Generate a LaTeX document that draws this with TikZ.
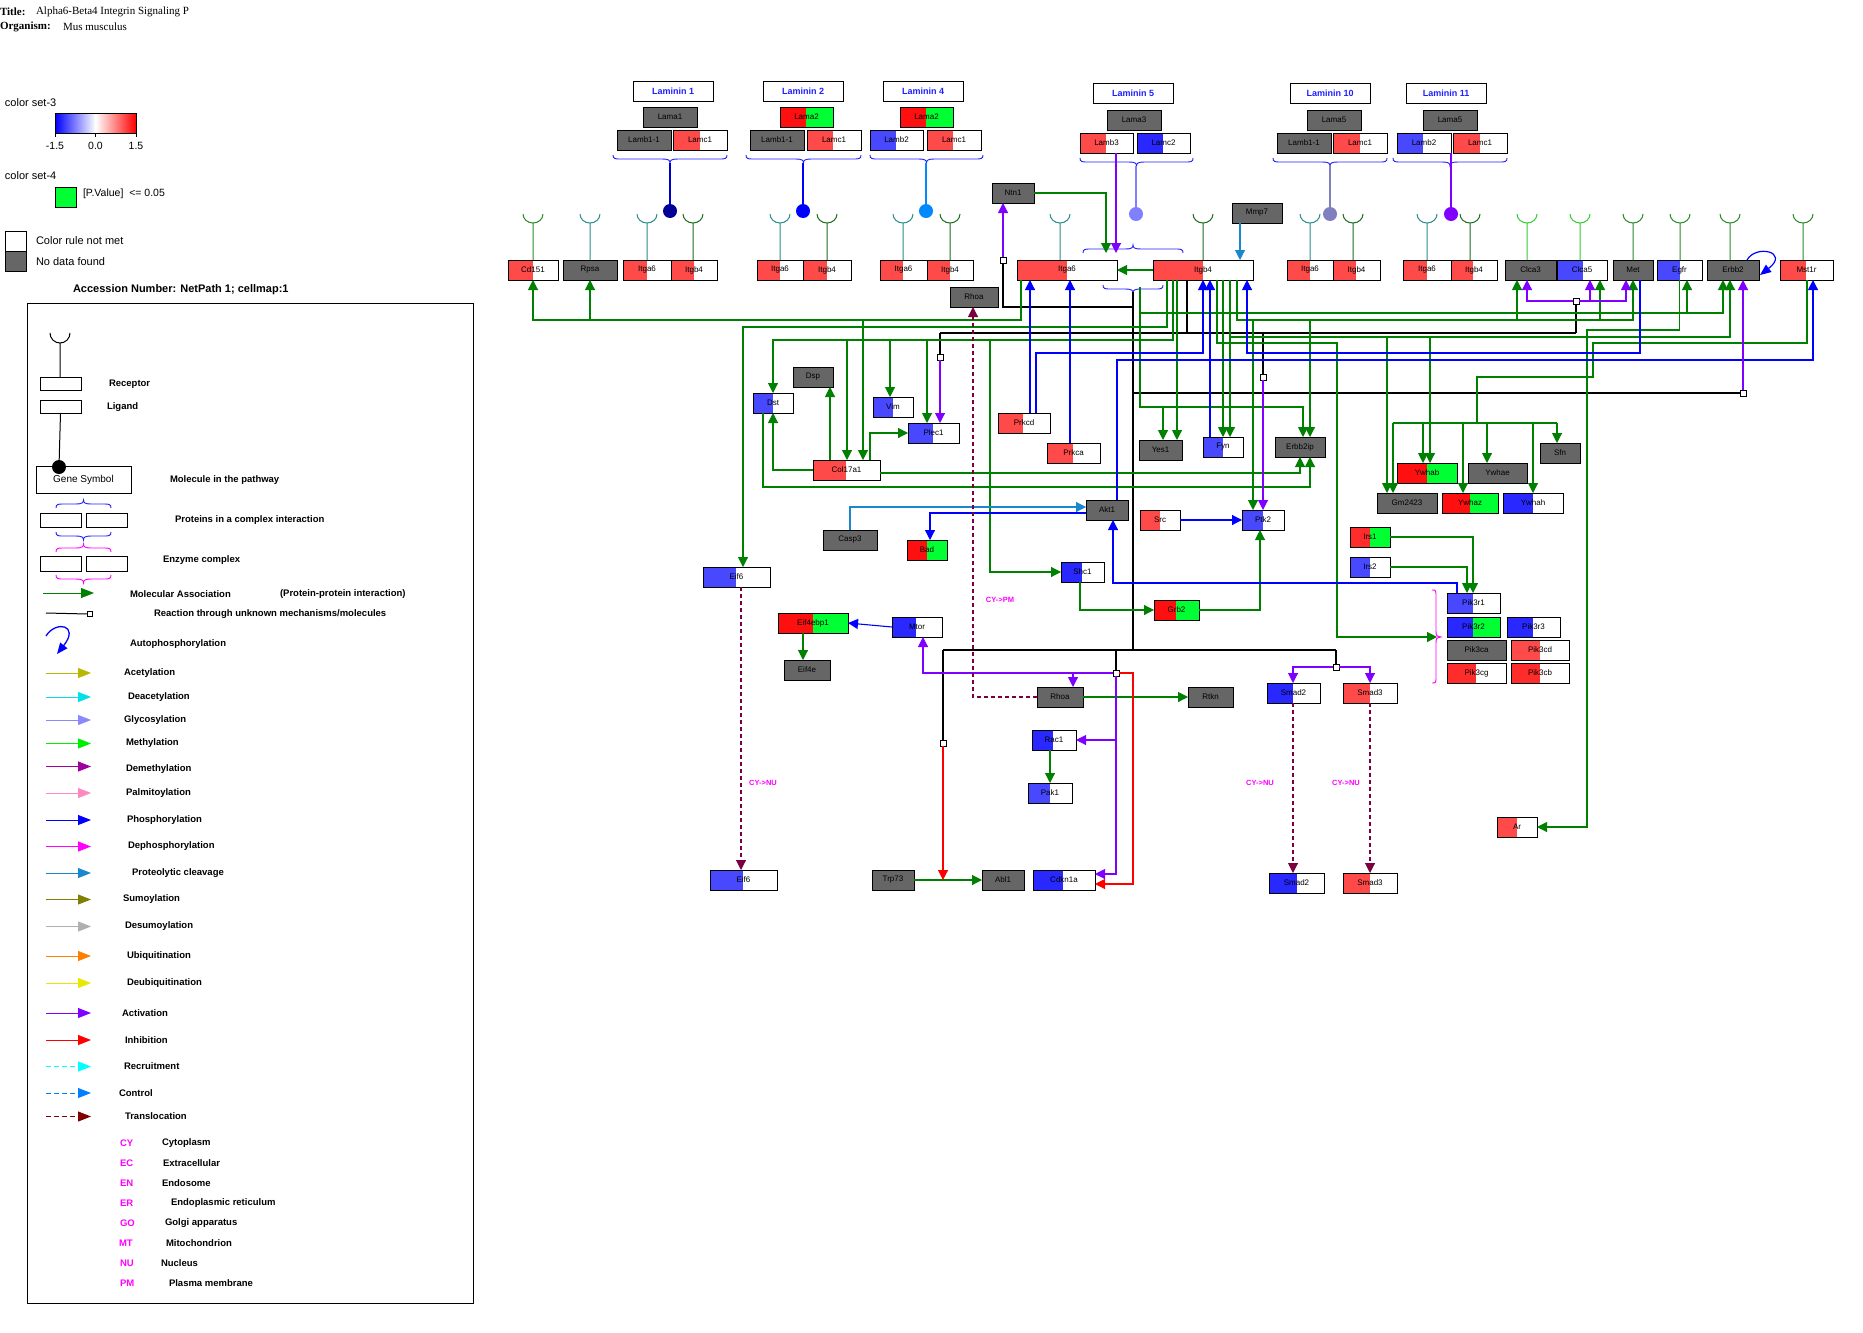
\documentclass[tikz,border=0pt]{standalone}
\usepackage{fontspec}
\setmainfont{Liberation Sans}
\newfontfamily\serifface{Liberation Serif}
\usetikzlibrary{arrows.meta}

% data colours
\definecolor{gry}{HTML}{666666}
\definecolor{rd}{HTML}{FF4A4A}
\definecolor{rdd}{HTML}{FF1010}
\definecolor{rdm}{HTML}{FF2C2C}
\definecolor{bl}{HTML}{4848FF}
\definecolor{bld}{HTML}{2828FF}
\definecolor{gr}{HTML}{00FF33}
% interaction colours
\definecolor{cAsc}{HTML}{008000}
\definecolor{cPhos}{HTML}{0000FF}
\definecolor{cProt}{HTML}{1A88CC}
\definecolor{cAct}{HTML}{8000FF}
\definecolor{cInh}{HTML}{FF0000}
\definecolor{cTrl}{HTML}{7A0040}
\definecolor{cMag}{HTML}{FF00FF}
\definecolor{cBrace}{HTML}{2020FF}
\definecolor{cLab}{HTML}{2020FF}
\definecolor{cupTeal}{HTML}{2A8C8C}
\definecolor{cupDk}{HTML}{1E6E1E}
\definecolor{cupGr}{HTML}{2A8A2A}
\definecolor{cupLt}{HTML}{33CC33}
\definecolor{lmA}{HTML}{0000CC}
\definecolor{lmAc}{HTML}{000099}
\definecolor{lmB}{HTML}{0000FF}
\definecolor{lmC}{HTML}{0088FF}
\definecolor{lmD}{HTML}{8080FF}
\definecolor{lmE}{HTML}{8080C0}
% legend colours
\definecolor{lAcet}{HTML}{B8B800}
\definecolor{lDeac}{HTML}{00E0E8}
\definecolor{lGlyc}{HTML}{8888FF}
\definecolor{lMeth}{HTML}{00EE00}
\definecolor{lDeme}{HTML}{A000A0}
\definecolor{lPalm}{HTML}{FF88C0}
\definecolor{lPhos}{HTML}{0000FF}
\definecolor{lDeph}{HTML}{FF00FF}
\definecolor{lProt}{HTML}{1A88CC}
\definecolor{lSumo}{HTML}{808000}
\definecolor{lDesu}{HTML}{B0B0B0}
\definecolor{lUbiq}{HTML}{FF8000}
\definecolor{lDeub}{HTML}{E8E800}
\definecolor{lActv}{HTML}{8000FF}
\definecolor{lInhb}{HTML}{FF0000}
\definecolor{lRecr}{HTML}{00FFFF}
\definecolor{lCtrl}{HTML}{0080FF}
\definecolor{lTrsl}{HTML}{800000}

% gene box: name, x1, y1, x2, y2, left colour, split x, right colour, label
\newcommand\gene[9]{%
  \fill[#6] (#2,#3) rectangle (#7,#5);
  \fill[#8] (#7,#3) rectangle (#4,#5);
  \node[gbox,minimum width={#4pt-#2pt},minimum height={#5pt-#3pt}] (#1) at ({(#2+#4)/2},{(#3+#5)/2}) {#9};}
% receptor cup: x, colour, top of the receptor box
\newcommand\rcup[3]{%
  \draw[#2,line width=1pt] (#1-10,214) arc[start angle=180,end angle=360,x radius=10pt,y radius=9pt]
    (#1,223) -- (#1,#3);}
% horizontal braces: x1, x2, y of the ends, colour
\newcommand\bracedn[4]{%
  \draw[#4,line width=0.9pt] (#1,#3) .. controls (#1,#3+4) and (#1+2,#3+4) .. (#1+8,#3+4)
    -- ({(#1+#2)/2-8},#3+4) .. controls ({(#1+#2)/2-2},#3+4) and ({(#1+#2)/2},#3+5) .. ({(#1+#2)/2},#3+8)
    .. controls ({(#1+#2)/2},#3+5) and ({(#1+#2)/2+2},#3+4) .. ({(#1+#2)/2+8},#3+4)
    -- (#2-8,#3+4) .. controls (#2-2,#3+4) and (#2,#3+4) .. (#2,#3);}
\newcommand\braceup[4]{%
  \draw[#4,line width=0.9pt] (#1,#3) .. controls (#1,#3-4) and (#1+2,#3-4) .. (#1+8,#3-4)
    -- ({(#1+#2)/2-8},#3-4) .. controls ({(#1+#2)/2-2},#3-4) and ({(#1+#2)/2},#3-5) .. ({(#1+#2)/2},#3-8)
    .. controls ({(#1+#2)/2},#3-5) and ({(#1+#2)/2+2},#3-4) .. ({(#1+#2)/2+8},#3-4)
    -- (#2-8,#3-4) .. controls (#2-2,#3-4) and (#2,#3-4) .. (#2,#3);}

\begin{document}
\begin{tikzpicture}[x=1pt,y=-1pt,
  gbox/.style={draw=black,line width=1pt,inner sep=0pt,outer sep=0pt,font=\fontsize{8}{9}\selectfont},
  labbox/.style={draw=black,line width=1pt,inner sep=0pt,outer sep=0pt,minimum width=80pt,minimum height=20pt,text=cLab,font=\bfseries\fontsize{9}{10}\selectfont},
  link/.style={line width=1.1pt},
  arrtip/.style={-{Triangle[length=10pt,width=10pt]}},
  asc/.style={link,draw=cAsc,arrtip},
  asl/.style={link,draw=cAsc},
  phos/.style={link,draw=cPhos,arrtip},
  prot/.style={link,draw=cProt,arrtip},
  actv/.style={link,draw=cAct,arrtip},
  acl/.style={link,draw=cAct},
  inhb/.style={link,draw=cInh,arrtip},
  unk/.style={link,draw=black},
  transl/.style={link,draw=cTrl,dash pattern=on 4pt off 3pt,arrtip},
  sq/.style={draw=black,fill=white,line width=0.8pt,minimum size=6pt,inner sep=0pt,outer sep=0pt},
  lbl/.style={inner sep=0pt,outer sep=0pt},
  leg/.style={lbl,anchor=west,font=\bfseries\fontsize{9.5}{11}\selectfont},
  cmp/.style={lbl,anchor=west,text=cMag,font=\bfseries\fontsize{9.5}{11}\selectfont},
  loc/.style={lbl,text=cMag,font=\bfseries\fontsize{7.5}{9}\selectfont},
  legarr/.style={line width=0.9pt,-{Triangle[length=13pt,width=10pt]}},
]
\useasboundingbox (0,0) rectangle (1863,1333);
\fill[white] (0,0) rectangle (1863,1333);

% ---------------- header ----------------
\node[lbl,anchor=west,font=\serifface\bfseries\fontsize{11}{12}\selectfont] (ttlA) at (0,12) {Title:};
\node[lbl,anchor=west,font=\serifface\fontsize{11}{12}\selectfont] (ttlB) at (36,12) {Alpha6-Beta4 Integrin Signaling P};
\node[lbl,anchor=west,font=\serifface\bfseries\fontsize{11}{12}\selectfont] (orgA) at (0,27) {Organism:};
\node[lbl,anchor=west,font=\serifface\fontsize{11}{12}\selectfont] (orgB) at (63,27) {Mus musculus};

% colour sets
\node[lbl,anchor=west,font=\fontsize{11}{12}\selectfont] (cs3) at (5,103) {color set-3};
\shade[left color=blue,right color=white] (55,113) rectangle (95.5,133);
\shade[left color=white,right color=red] (95.5,113) rectangle (136,133);
\draw[line width=0.8pt] (55,113) rectangle (136,133);
\draw[line width=0.8pt] (55,133) -- (55,137) (95.5,133) -- (95.5,137) (136,133) -- (136,137);
\node[lbl,font=\fontsize{10.5}{12}\selectfont] (tkA) at (55,146) {-1.5};
\node[lbl,font=\fontsize{10.5}{12}\selectfont] (tkB) at (95.5,146) {0.0};
\node[lbl,font=\fontsize{10.5}{12}\selectfont] (tkC) at (136,146) {1.5};
\node[lbl,anchor=west,font=\fontsize{11}{12}\selectfont] (cs4) at (5,176) {color set-4};
\fill[gr] (55,187) rectangle (76,207);
\draw[line width=0.8pt] (55,187) rectangle (76,207);
\node[lbl,anchor=west,font=\fontsize{10.5}{12}\selectfont] (pval) at (83,194) {[P.Value]\ \ <= 0.05};
\draw[line width=0.8pt] (5,231) rectangle (26,251);
\fill[gry] (5,251) rectangle (26,271);
\draw[line width=0.8pt] (5,251) rectangle (26,271);
\node[lbl,anchor=west,font=\fontsize{11}{12}\selectfont] (crnm) at (36,241) {Color rule not met};
\node[lbl,anchor=west,font=\fontsize{11}{12}\selectfont] (ndf) at (36,262) {No data found};
\node[lbl,anchor=west,font=\bfseries\fontsize{11}{12}\selectfont] (acc) at (73,290) {Accession Number: NetPath 1; cellmap:1};

% ---------------- legend ----------------
\draw[line width=1pt] (27,303) rectangle (473,1303);
\draw[line width=1pt] (50,333) arc[start angle=180,end angle=360,radius=10pt] (60,343) -- (60,377);
\node[gbox,minimum width=41pt,minimum height=13pt] (legRec) at (60.5,383.5) {};
\node[gbox,minimum width=41pt,minimum height=13pt] (legLig) at (60.5,406.5) {};
\draw[line width=1pt] (legLig.south) -- (59,467);
\node[gbox,minimum width=95pt,minimum height=27pt,font=\fontsize{10}{12}\selectfont] (legGene) at (83.5,479.5) {Gene Symbol};
\fill (59,467) circle[radius=7pt];
\node[leg] (tRec) at (109,384) {Receptor};
\node[leg] (tLig) at (107,407) {Ligand};
\node[leg] (tMol) at (170,480) {Molecule in the pathway};
\braceup{56}{111}{508}{cBrace}
\node[gbox,minimum width=41pt,minimum height=14pt] (legCa) at (60.5,520) {};
\node[gbox,minimum width=41pt,minimum height=14pt] (legCb) at (106.5,520) {};
\bracedn{56}{111}{532}{cBrace}
\node[leg] (tCpx) at (175,520) {Proteins in a complex interaction};
\braceup{56}{111}{552}{cMag}
\node[gbox,minimum width=41pt,minimum height=15pt] (legEa) at (60.5,563.5) {};
\node[gbox,minimum width=41pt,minimum height=15pt] (legEb) at (106.5,563.5) {};
\bracedn{56}{111}{575}{cMag}
\node[leg] (tEnz) at (163,560) {Enzyme complex};
\draw[legarr,draw=cAsc] (43,593) -- (94,593);
\node[leg] (tMA) at (130,594) {Molecular Association};
\node[leg] (tPPI) at (280,594) {(Protein-protein interaction)};
\node[sq,minimum size=5pt] (legSq) at (90,614) {};
\draw[line width=1pt] (46,613) -- (legSq.west);
\node[leg] (tUnk) at (154,614) {Reaction through unknown mechanisms/molecules};
\draw[line width=1.3pt,draw=cPhos,-{Triangle[length=11pt,width=9pt]}] (46,636) .. controls (56,620) and (80,625) .. (57,654);
\node[leg] (tAuto) at (130,644) {Autophosphorylation};

\draw[legarr,draw=lAcet] (46,673) -- (91,673);  \node[leg] (tAcet) at (124,673) {Acetylation};
\draw[legarr,draw=lDeac] (46,697) -- (91,697);  \node[leg] (tDeac) at (128,697) {Deacetylation};
\draw[legarr,draw=lGlyc] (46,720) -- (91,720);  \node[leg] (tGlyc) at (124,720) {Glycosylation};
\draw[legarr,draw=lMeth] (46,743.5) -- (91,743.5);  \node[leg] (tMeth) at (126,743.5) {Methylation};
\draw[legarr,draw=lDeme] (46,766.5) -- (91,766.5);  \node[leg] (tDeme) at (126,769.5) {Demethylation};
\draw[legarr,draw=lPalm] (46,793) -- (91,793);  \node[leg] (tPalm) at (126,793) {Palmitoylation};
\draw[legarr,draw=lPhos] (46,820) -- (91,820);  \node[leg] (tPhos) at (127,820) {Phosphorylation};
\draw[legarr,draw=lDeph] (46,846.5) -- (91,846.5);  \node[leg] (tDeph) at (128,846.5) {Dephosphorylation};
\draw[legarr,draw=lProt] (46,873) -- (91,873);  \node[leg] (tProt) at (132,873) {Proteolytic cleavage};
\draw[legarr,draw=lSumo] (46,899.5) -- (91,899.5);  \node[leg] (tSumo) at (123,899.5) {Sumoylation};
\draw[legarr,draw=lDesu] (46,926.5) -- (91,926.5);  \node[leg] (tDesu) at (125,926.5) {Desumoylation};
\draw[legarr,draw=lUbiq] (46,956) -- (91,956);  \node[leg] (tUbiq) at (127,956) {Ubiquitination};
\draw[legarr,draw=lDeub] (46,983) -- (91,983);  \node[leg] (tDeub) at (127,983) {Deubiquitination};
\draw[legarr,draw=lActv] (46,1013) -- (91,1013);  \node[leg] (tActv) at (122,1013) {Activation};
\draw[legarr,draw=lInhb] (46,1040) -- (91,1040);  \node[leg] (tInhb) at (125,1040) {Inhibition};
\draw[legarr,draw=lRecr,dash pattern=on 5pt off 3pt] (46,1066.5) -- (91,1066.5);  \node[leg] (tRecr) at (124,1066.5) {Recruitment};
\draw[legarr,draw=lCtrl,dash pattern=on 5pt off 3pt] (46,1093) -- (91,1093);  \node[leg] (tCtrl) at (119,1093) {Control};
\draw[legarr,draw=lTrsl,dash pattern=on 5pt off 3pt] (46,1116.5) -- (91,1116.5);  \node[leg] (tTrsl) at (125,1116.5) {Translocation};

\node[cmp] (cCY) at (120,1143.5) {CY}; \node[leg] (vCY) at (162,1143.5) {Cytoplasm};
\node[cmp] (cEC) at (120,1163.5) {EC}; \node[leg] (vEC) at (163,1163.5) {Extracellular};
\node[cmp] (cEN) at (120,1183.5) {EN}; \node[leg] (vEN) at (162,1183.5) {Endosome};
\node[cmp] (cER) at (120,1203.5) {ER}; \node[leg] (vER) at (171,1203.5) {Endoplasmic reticulum};
\node[cmp] (cGO) at (120,1223) {GO}; \node[leg] (vGO) at (165,1223) {Golgi apparatus};
\node[cmp] (cMT) at (119,1243.5) {MT}; \node[leg] (vMT) at (166,1243.5) {Mitochondrion};
\node[cmp] (cNU) at (120,1263.5) {NU}; \node[leg] (vNU) at (161,1263.5) {Nucleus};
\node[cmp] (cPM) at (120,1283) {PM}; \node[leg] (vPM) at (169,1283) {Plasma membrane};

% ---------------- laminin ligands ----------------
\node[labbox] (lamhA) at (673,91) {Laminin 1};
\node[labbox] (lamhB) at (803,91) {Laminin 2};
\node[labbox] (lamhC) at (923,91) {Laminin 4};
\node[labbox] (lamhD) at (1133,93) {Laminin 5};
\node[labbox] (lamhE) at (1330,93) {Laminin 10};
\node[labbox] (lamhF) at (1446,93) {Laminin 11};

\gene{lamaA}{643}{107}{697}{127}{gry}{697}{gry}{Lama1}
\gene{lambA}{617}{130}{671}{150}{gry}{671}{gry}{Lamb1-1}
\gene{lamcA}{673}{130}{727}{150}{rd}{700}{white}{Lamc1}
\gene{lamaB}{780}{107}{833}{127}{rdd}{806}{gr}{Lama2}
\gene{lambB}{750}{130}{804}{150}{gry}{804}{gry}{Lamb1-1}
\gene{lamcB}{807}{130}{861}{150}{rd}{833}{white}{Lamc1}
\gene{lamaC}{900}{107}{953}{127}{rdd}{926}{gr}{Lama2}
\gene{lambC}{870}{130}{923}{150}{bl}{896}{white}{Lamb2}
\gene{lamcC}{927}{130}{981}{150}{rd}{953}{white}{Lamc1}
\gene{lamaD}{1107}{110}{1161}{130}{gry}{1161}{gry}{Lama3}
\gene{lambD}{1080}{133}{1133}{153}{rd}{1106}{white}{Lamb3}
\gene{lamcD}{1137}{133}{1190}{153}{bld}{1163}{white}{Lamc2}
\gene{lamaE}{1307}{110}{1361}{130}{gry}{1361}{gry}{Lama5}
\gene{lambE}{1277}{133}{1331}{153}{gry}{1331}{gry}{Lamb1-1}
\gene{lamcE}{1333}{133}{1387}{153}{rd}{1360}{white}{Lamc1}
\gene{lamaF}{1423}{110}{1477}{130}{gry}{1477}{gry}{Lama5}
\gene{lambF}{1397}{133}{1451}{153}{bl}{1423}{white}{Lamb2}
\gene{lamcF}{1453}{133}{1507}{153}{rd}{1480}{white}{Lamc1}

\bracedn{613}{727}{155}{cBrace}
\bracedn{746}{861}{155}{cBrace}
\bracedn{870}{983}{155}{cBrace}
\bracedn{1080}{1193}{158}{cBrace}
\bracedn{1273}{1387}{158}{cBrace}
\bracedn{1393}{1507}{158}{cBrace}

\draw[lmA,line width=1.2pt] (670,163) -- (670,211); \fill[lmAc] (670,211) circle[radius=7pt];
\draw[lmB,line width=1.2pt] (803,163) -- (803,211); \fill[lmB] (803,211) circle[radius=7pt];
\draw[lmC,line width=1.2pt] (926,163) -- (926,211); \fill[lmC] (926,211) circle[radius=7pt];
\draw[lmD,line width=1.2pt] (1136,166) -- (1136,214); \fill[lmD] (1136,214) circle[radius=7pt];
\draw[lmE,line width=1.2pt] (1330,166) -- (1330,214); \fill[lmE] (1330,214) circle[radius=7pt];
\draw[cAct,line width=1.2pt] (1451,153) -- (1451,214); \fill[cAct] (1451,214) circle[radius=7pt];

% ---------------- receptors ----------------
\gene{cdA}{508}{260}{558}{280}{rd}{533}{white}{Cd151}
\gene{rpsa}{563}{260}{617}{280}{gry}{617}{gry}{Rpsa}
\gene{itgaA}{623}{260}{671}{280}{rd}{647}{white}{Itga6}
\gene{itgbA}{671}{260}{717}{280}{rd}{694}{white}{Itgb4}
\gene{itgaC}{757}{260}{803}{280}{rd}{780}{white}{Itga6}
\gene{itgbC}{803}{260}{851}{280}{rd}{827}{white}{Itgb4}
\gene{itgaD}{880}{260}{927}{280}{rd}{903}{white}{Itga6}
\gene{itgbD}{927}{260}{973}{280}{rd}{950}{white}{Itgb4}
\gene{itgaB}{1017}{260}{1117}{280}{rd}{1067}{white}{Itga6}
\gene{itgbB}{1153}{260}{1253}{280}{rd}{1203}{white}{Itgb4}
\gene{itgaE}{1287}{260}{1333}{280}{rd}{1310}{white}{Itga6}
\gene{itgbE}{1333}{260}{1380}{280}{rd}{1356}{white}{Itgb4}
\gene{itgaF}{1403}{260}{1451}{280}{rd}{1427}{white}{Itga6}
\gene{itgbF}{1451}{260}{1497}{280}{rd}{1473}{white}{Itgb4}
\gene{clcaA}{1505}{260}{1556}{280}{gry}{1556}{gry}{Clca3}
\gene{clcaB}{1557}{260}{1607}{280}{bl}{1583}{white}{Clca5}
\gene{met}{1613}{260}{1653}{280}{gry}{1653}{gry}{Met}
\gene{egfr}{1657}{260}{1702}{280}{bl}{1680}{white}{Egfr}
\gene{erbb}{1707}{260}{1759}{280}{gry}{1759}{gry}{Erbb2}
\gene{mstr}{1780}{260}{1833}{280}{rd}{1806}{white}{Mst1r}

\rcup{533}{cupGr}{260}
\rcup{590}{cupTeal}{260}
\rcup{647}{cupTeal}{260}
\rcup{693}{cupDk}{260}
\rcup{780}{cupTeal}{260}
\rcup{827}{cupDk}{260}
\rcup{903}{cupTeal}{260}
\rcup{950}{cupDk}{260}
\rcup{1060}{cupTeal}{260}
\rcup{1203}{cupDk}{260}
\rcup{1310}{cupTeal}{260}
\rcup{1353}{cupDk}{260}
\rcup{1427}{cupTeal}{260}
\rcup{1470}{cupDk}{260}
\rcup{1527}{cupLt}{260}
\rcup{1580}{cupLt}{260}
\rcup{1633}{cupGr}{260}
\rcup{1680}{cupGr}{260}
\rcup{1730}{cupGr}{260}
\rcup{1803}{cupGr}{260}

\braceup{1083}{1183}{253}{cBrace}
\bracedn{1103}{1163}{285}{cBrace}

% ---------------- intracellular molecules ----------------
\gene{ntn}{992}{183}{1034}{203}{gry}{1034}{gry}{Ntn1}
\gene{mmp}{1232}{203}{1282}{223}{gry}{1282}{gry}{Mmp7}
\gene{rhoaA}{950}{287}{998}{307}{gry}{998}{gry}{Rhoa}
\gene{dsp}{793}{367}{833}{387}{gry}{833}{gry}{Dsp}
\gene{dst}{753}{393}{793}{413}{bl}{773}{white}{Dst}
\gene{vim}{873}{397}{913}{417}{bl}{893}{white}{Vim}
\gene{plec}{908}{423}{959}{443}{bl}{933}{white}{Plec1}
\gene{col}{813}{460}{880}{480}{rd}{846}{white}{Col17a1}
\gene{prkcd}{998}{413}{1050}{433}{rd}{1023}{white}{Prkcd}
\gene{prkca}{1047}{443}{1100}{463}{rd}{1073}{white}{Prkca}
\gene{yes}{1139}{440}{1182}{460}{gry}{1182}{gry}{Yes1}
\gene{fyn}{1203}{437}{1243}{457}{bl}{1223}{white}{Fyn}
\gene{erbbip}{1275}{437}{1325}{457}{gry}{1325}{gry}{Erbb2ip}
\gene{akt}{1086}{500}{1128}{520}{gry}{1128}{gry}{Akt1}
\gene{src}{1140}{510}{1180}{530}{rd}{1160}{white}{Src}
\gene{ptk}{1242}{510}{1284}{530}{bl}{1263}{white}{Ptk2}
\gene{casp}{823}{530}{877}{550}{gry}{877}{gry}{Casp3}
\gene{bad}{907}{540}{947}{560}{rdd}{927}{gr}{Bad}
\gene{shc}{1061}{562}{1104}{582}{bld}{1082}{white}{Shc1}
\gene{eifA}{703}{567}{770}{587}{bl}{736}{white}{Eif6}
\gene{grb}{1154}{600}{1199}{620}{rdd}{1176}{gr}{Grb2}
\gene{eifbp}{778}{613}{848}{633}{rdd}{813}{gr}{Eif4ebp1}
\gene{mtor}{892}{617}{942}{637}{bld}{916}{white}{Mtor}
\gene{eife}{784}{660}{830}{680}{gry}{830}{gry}{Eif4e}
\gene{rhoaB}{1037}{687}{1083}{707}{gry}{1083}{gry}{Rhoa}
\gene{rtkn}{1188}{687}{1233}{707}{gry}{1233}{gry}{Rtkn}
\gene{rac}{1032}{730}{1076}{750}{bld}{1053}{white}{Rac1}
\gene{pak}{1028}{783}{1072}{803}{bl}{1050}{white}{Pak1}
\gene{trp}{872}{870}{914}{890}{gry}{914}{gry}{Trp73}
\gene{abl}{982}{870}{1024}{890}{gry}{1024}{gry}{Abl1}
\gene{cdk}{1033}{870}{1095}{890}{bld}{1063}{white}{Cdkn1a}
\gene{eifB}{710}{870}{777}{890}{bl}{743}{white}{Eif6}
\gene{sfn}{1540}{443}{1580}{463}{gry}{1580}{gry}{Sfn}
\gene{ywb}{1397}{463}{1457}{483}{rdd}{1427}{gr}{Ywhab}
\gene{ywe}{1468}{463}{1527}{483}{gry}{1527}{gry}{Ywhae}
\gene{gm}{1377}{493}{1437}{513}{gry}{1437}{gry}{Gm2423}
\gene{ywz}{1442}{493}{1498}{513}{rdd}{1470}{gr}{Ywhaz}
\gene{ywh}{1503}{493}{1563}{513}{bld}{1533}{white}{Ywhah}
\gene{irsA}{1350}{527}{1390}{547}{rdm}{1370}{gr}{Irs1}
\gene{irsB}{1350}{557}{1390}{577}{bl}{1370}{white}{Irs2}
\gene{pkrA}{1447}{593}{1500}{613}{bl}{1473}{white}{Pik3r1}
\gene{pkrB}{1447}{617}{1500}{637}{bld}{1473}{gr}{Pik3r2}
\gene{pkrC}{1507}{617}{1560}{637}{bld}{1533}{white}{Pik3r3}
\gene{pkca}{1447}{640}{1506}{660}{gry}{1506}{gry}{Pik3ca}
\gene{pkcd}{1511}{640}{1569}{660}{rd}{1540}{white}{Pik3cd}
\gene{pkcg}{1447}{663}{1506}{683}{rdm}{1476}{white}{Pik3cg}
\gene{pkcb}{1511}{663}{1569}{683}{rdm}{1540}{white}{Pik3cb}
\gene{smdA}{1267}{683}{1320}{703}{bld}{1293}{white}{Smad2}
\gene{smdB}{1343}{683}{1397}{703}{rd}{1370}{white}{Smad3}
\gene{smdC}{1269}{873}{1324}{893}{bld}{1297}{white}{Smad2}
\gene{smdD}{1343}{873}{1397}{893}{rd}{1370}{white}{Smad3}
\gene{ar}{1497}{817}{1537}{837}{rd}{1517}{white}{Ar}

% enzyme complex brace
\draw[cMag,line width=0.9pt] (1432,590) .. controls (1436,590) .. (1436,598) -- (1436,630)
  .. controls (1436,636) .. (1441,637) .. controls (1436,638) .. (1436,644) -- (1436,675)
  .. controls (1436,683) .. (1432,683);
\coordinate (pikcx) at (1437,637);
\coordinate (cpxtop) at (1106,253);
\coordinate (cpxtopb) at (1116,253);

% reaction points
\node[sq] (sqN) at (1003,260) {};
\node[sq] (sqP) at (940,357) {};
\node[sq] (sqF) at (1263,377) {};
\node[sq] (sqC) at (1576,301) {};
\node[sq] (sqE) at (1743,393) {};
\node[sq] (sqR) at (1116,673) {};
\node[sq] (sqT) at (943,743) {};
\node[sq] (sqS) at (1336,667) {};
\coordinate (inhpt) at (943,880);

% ---------------- unknown mechanism links ----------------
\draw[unk] (1133,292) -- (1133,650);
\draw[unk] (1133,307) -| (sqN.south);
\draw[unk] (1133,393) -- (sqE.west);
\draw[unk] (itgbB.south -| 1187,0) -- (1187,333);
\draw[unk] (940,333) -- (1576,333);
\draw[unk] (940,333) -- (sqP.north);
\draw[unk] (1263,333) -- (sqF.north);
\draw[unk] (1576,333) -- (sqC.south);
\draw[unk] (943,650) -- (1336,650);
\draw[unk] (943,650) -- (sqT.north);
\draw[unk] (1116,650) -- (sqR.north);
\draw[unk] (1336,650) -- (sqS.north);

% ---------------- molecular association ----------------
\draw[asc] (itgaB.south -| 1021,0) |- (533,320) -- (cdA.south);
\draw[asc] (590,320) -- (rpsa.south);
\draw[asc] (863,320) -- (col.north -| 863,0);
\draw[asc] (itgbB.south -| 1167,0) |- (743,327) -- (eifA.north -| 743,0);
\draw[asc] (itgbB.south -| 1173,0) |- (773,340) -- (dst.north);
\draw[asc] (847,340) -- (col.north -| 847,0);
\draw[asc] (890,340) -- (vim.north -| 890,0);
\draw[asc] (927,340) -- (plec.north -| 927,0);
\draw[asc] (990,340) |- (shc.west);
\draw[asc] (itgbB.south -| 1177,0) -- (yes.north -| 1177,0);
\draw[asc] (1140,287) |- (1303,407) -- (erbbip.north -| 1303,0);
\draw[asc] (1163,407) -- (yes.north -| 1163,0);
\draw[asc] (1140,313) -| (erbb.south -| 1723,0);
\draw[asc] (1687,313) -- (egfr.south -| 1687,0);
\draw[asc] (itgbB.south -| 1217,0) |- (1337,343) |- (pikcx);
\draw[asc] (itgbB.south -| 1223,0) -- (fyn.north -| 1223,0);
\draw[asc] (itgbB.south -| 1230,0) -- (fyn.north -| 1230,0);
\draw[asc] (1230,337) -| (erbb.south -| 1730,0);
\draw[asc] (1387,337) -- (gm.north -| 1387,0);
\draw[asc] (1430,337) -- (ywb.north -| 1430,0);
\draw[asc] (itgbB.south -| 1237,0) |- (1633,320) -- (met.south);
\draw[asc] (1253,320) -- (ptk.north -| 1253,0);
\draw[asc] (1310,320) -- (erbbip.north -| 1310,0);
\draw[asc] (1517,320) -- (clcaA.south -| 1517,0);
\draw[asc] (1600,320) -- (clcaB.south -| 1600,0);
\draw[asc] (col.north -| 830,0) -- (dsp.south -| 830,0);
\draw[asc] (col.west) -| (dst.south);
\draw[asc] (col.north -| 870,0) |- (plec.west);
\draw[asc] (col.east |- 0,473) -| (erbbip.south -| 1300,0);
\draw[asc] (dst.south -| 763,0) |- (1310,487) -- (erbbip.south -| 1310,0);
\draw[asc] (shc.south -| 1080,0) |- (grb.west);
\draw[asc] (grb.east) -| (ptk.south -| 1260,0);
\draw[asc] (irsA.east) -| (pkrA.north -| 1473,0);
\draw[asc] (irsB.east) -| (pkrA.north -| 1467,0);
\draw[asc] (egfr.south) |- (1587,330) |- (ar.east);
\draw[asl] (mstr.south -| 1807,0) |- (1593,343) |- (1477,377) -- (1477,423);
\draw[asl] (1393,423) -- (1557,423);
\draw[asc] (1393,423) -- (gm.north -| 1393,0);
\draw[asc] (1423,423) -- (ywb.north -| 1423,0);
\draw[asc] (1463,423) -- (ywz.north -| 1463,0);
\draw[asc] (1487,423) -- (ywe.north -| 1487,0);
\draw[asc] (1533,423) -- (ywh.north -| 1533,0);
\draw[asc] (1557,423) -- (sfn.north -| 1557,0);
\draw[asc] (eifbp.south -| 803,0) -- (eife.north -| 803,0);
\draw[asc] (rhoaB.east) -- (rtkn.west);
\draw[asc] (rac.south -| 1050,0) -- (pak.north -| 1050,0);
\draw[asc] (trp.east) -- (abl.west);
\draw[asc] (itgbB.west) -- (itgaB.east);
\draw[asc] (ntn.east) -| (cpxtop);

% ---------------- phosphorylation ----------------
\draw[phos] (prkcd.north -| 1030,0) -- (itgaB.south -| 1030,0);
\draw[phos] (prkcd.north -| 1036,0) |- (1203,353) -- (itgbB.south -| 1203,0);
\draw[phos] (prkca.north -| 1070,0) -- (itgaB.south -| 1070,0);
\draw[phos] (fyn.north -| 1210,0) -- (itgbB.south -| 1210,0);
\draw[phos] (met.south -| 1640,0) |- (1247,353) -- (itgbB.south -| 1247,0);
\draw[phos] (akt.north -| 1117,0) |- (1813,360) -- (mstr.south -| 1813,0);
\draw[phos] (src.east) -- (ptk.west);
\draw[phos] (akt.west |- 0,513) -| (bad.north -| 930,0);
\draw[phos] (pkrA.north -| 1457,0) |- (1113,583) -- (akt.south -| 1113,0);
\draw[phos] (mtor.west) -- (eifbp.east);
\draw[line width=1.2pt,draw=cPhos,-{Triangle[length=11pt,width=9pt]}] (erbb.north -| 1747,0) .. controls (1756,244) and (1790,252) .. (1760,275);

% ---------------- proteolytic cleavage ----------------
\draw[prot] (mmp.south -| 1240,0) -- (itgbB.north -| 1240,0);
\draw[prot] (casp.north) |- (akt.west |- 0,507);

% ---------------- activation ----------------
\draw[actv] (lambD.south -| 1116,0) -- (cpxtopb);
\draw[actv] (sqN.north) -- (ntn.south -| 1003,0);
\draw[actv] (sqP.south) -- (plec.north -| 940,0);
\draw[actv] (sqF.south) -- (ptk.north -| 1263,0);
\draw[actv] (sqC.west) -| (clcaA.south -| 1527,0);
\draw[actv] (sqC.east) -| (met.south -| 1626,0);
\draw[actv] (1590,301) -- (clcaB.south -| 1590,0);
\draw[actv] (sqE.north) -- (erbb.south -| 1743,0);
\draw[actv] (sqR.west) -| (mtor.south -| 923,0);
\draw[actv] (1073,673) -- (rhoaB.north -| 1073,0);
\draw[actv] (sqR.south) |- (cdk.east |- 0,874);
\draw[actv] (1116,740) -- (rac.east |- 0,740);
\draw[actv] (sqS.west) -| (smdA.north -| 1293,0);
\draw[actv] (sqS.east) -| (smdB.north -| 1370,0);

% ---------------- inhibition ----------------
\draw[inhb] (sqT.south) -- (inhpt);
\draw[inhb] (sqR.east) -| (1133,884) -- (cdk.east |- 0,884);

% ---------------- translocation ----------------
\draw[transl] (rhoaB.west) -| (rhoaA.south -| 973,0);
\draw[transl] (eifA.south -| 741,0) -- (eifB.north -| 741,0);
\draw[transl] (smdA.south -| 1293,0) -- (smdC.north -| 1293,0);
\draw[transl] (smdB.south) -- (smdD.north);
\node[loc] (locA) at (1000,600) {CY->PM};
\node[loc] (locB) at (763,783) {CY->NU};
\node[loc] (locC) at (1260,783) {CY->NU};
\node[loc] (locD) at (1346,783) {CY->NU};
\end{tikzpicture}
\end{document}
